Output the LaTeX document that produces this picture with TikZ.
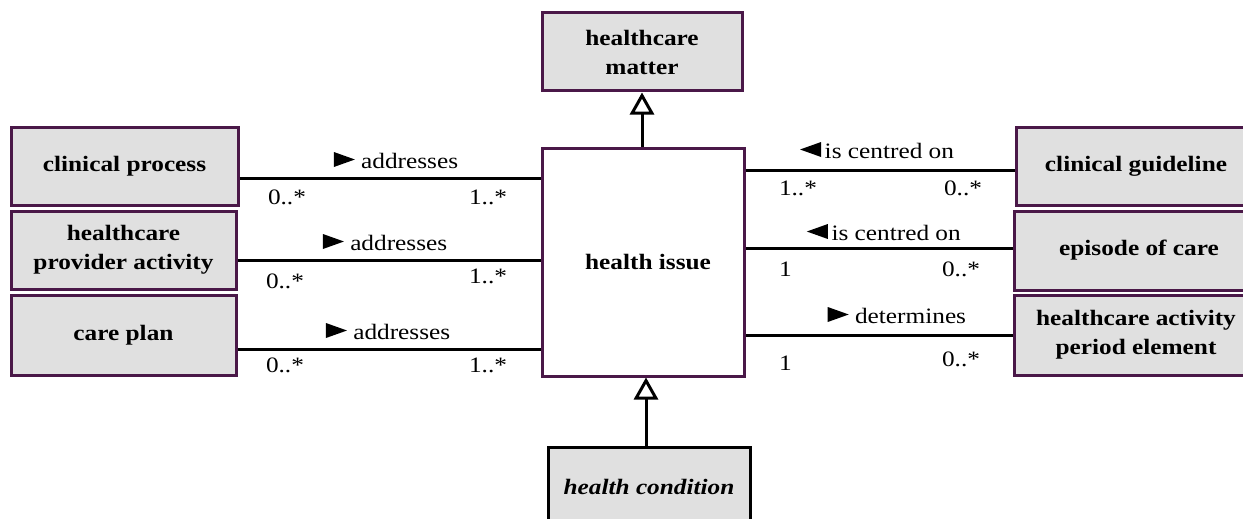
\documentclass[tikz,border=0pt]{standalone}
\usepackage{fontspec}
\setmainfont[FakeStretch=1.15]{Liberation Serif}
\usetikzlibrary{arrows.meta}
\definecolor{bord}{HTML}{4A1848}
\definecolor{boxfill}{HTML}{E0E0E0}
\newcommand\rtri{\tikz[baseline=-1pt,x=1pt,y=1pt]\fill (0,0)--(0,15)--(21,7.5)--cycle;}
\newcommand\ltri{\tikz[baseline=-1pt,x=1pt,y=1pt]\fill (21,0)--(21,15)--(0,7.5)--cycle;}
\begin{document}
\begin{tikzpicture}[x=1pt,y=-1pt,
  cls/.style={draw=bord, fill=boxfill, line width=3pt, font=\fontsize{22}{29}\selectfont\bfseries, align=center, inner sep=0pt},
  assoc/.style={line width=3pt},
  lbl/.style={font=\fontsize{22}{24}\selectfont, inner sep=0pt, anchor=base},
  mul/.style={font=\fontsize{22}{24}\selectfont, inner sep=0pt},
  gen/.style={line width=3pt, -{Triangle[open,length=22pt,width=24pt,line width=3pt]}}]
\useasboundingbox (0,0) rectangle (1243,519);

% classes
\node[cls, minimum width=200pt, minimum height=78pt] (hm) at (642,52) {healthcare\\matter};
\node[cls, fill=white, minimum width=202pt, minimum height=228pt] (hi) at (643,262) {\hspace*{10pt}health issue};
\node[cls, draw=black, minimum width=202pt, minimum height=80pt, font=\fontsize{22}{29}\selectfont\bfseries\itshape] (hc) at (649,487) {health condition};

\node[cls, minimum width=227pt, minimum height=78pt] (cp) at (124.5,166) {clinical process};
\node[cls, minimum width=225pt, minimum height=78pt] (hpa) at (123.5,250) {healthcare\\provider activity};
\node[cls, minimum width=225pt, minimum height=80pt] (cpl) at (123.5,335) {care plan};

\node[cls, minimum width=240pt, minimum height=78pt] (cg) at (1136,166) {clinical guideline};
\node[cls, minimum width=250pt, minimum height=79pt] (eoc) at (1139,250.5) {episode of care};
\node[cls, minimum width=244pt, minimum height=80pt] (hape) at (1136,335) {healthcare activity\\period element};

% generalisations
\draw[gen] (hi.north -| hm.south) -- (hm.south);
\draw[gen] ([xshift=-3pt]hc.north) coordinate (hcn) -- (hcn |- hi.south);

% left associations
\draw[assoc] ([yshift=-12pt]cp.east) coordinate (a1) -- (a1 -| hi.west)
  node[lbl, pos=0.52, yshift=10pt] {\rtri\ addresses}
  node[mul, pos=0, anchor=base west, xshift=27pt, yshift=-26pt] {0..*}
  node[mul, pos=1, anchor=base east, xshift=-32pt, yshift=-26pt] {1..*};
\draw[assoc] ([yshift=-10pt]hpa.east) coordinate (a2) -- (a2 -| hi.west)
  node[lbl, pos=0.487, yshift=10pt] {\rtri\ addresses}
  node[mul, pos=0, anchor=base west, xshift=27pt, yshift=-28pt] {0..*}
  node[mul, pos=1, anchor=base east, xshift=-32pt, yshift=-23pt] {1..*};
\draw[assoc] ([yshift=-14pt]cpl.east) coordinate (a3) -- (a3 -| hi.west)
  node[lbl, pos=0.497, yshift=10pt] {\rtri\ addresses}
  node[mul, pos=0, anchor=base west, xshift=27pt, yshift=-23pt] {0..*}
  node[mul, pos=1, anchor=base east, xshift=-32pt, yshift=-23pt] {1..*};

% right associations
\draw[assoc] ([yshift=-4pt]cg.west) coordinate (b1) -- (b1 -| hi.east)
  node[lbl, pos=0.511, yshift=12pt] {\ltri\,is centred on}
  node[mul, pos=1, anchor=base west, xshift=32pt, yshift=-25pt] {1..*}
  node[mul, pos=0, anchor=base east, xshift=-31pt, yshift=-25pt] {0..*};
\draw[assoc] ([yshift=2.5pt]eoc.west) coordinate (b2) -- (b2 -| hi.east)
  node[lbl, pos=0.482, yshift=8pt] {\ltri\,is centred on}
  node[mul, pos=1, anchor=base west, xshift=32pt, yshift=-28pt] {1}
  node[mul, pos=0, anchor=base east, xshift=-31pt, yshift=-28pt] {0..*};
\draw[assoc] (hape.west) coordinate (b3) -- (b3 -| hi.east)
  node[lbl, pos=0.433, yshift=12pt] {\rtri\ determines}
  node[mul, pos=1, anchor=base west, xshift=32pt, yshift=-35pt] {1}
  node[mul, pos=0, anchor=base east, xshift=-31pt, yshift=-31pt] {0..*};
\end{tikzpicture}
\end{document}
